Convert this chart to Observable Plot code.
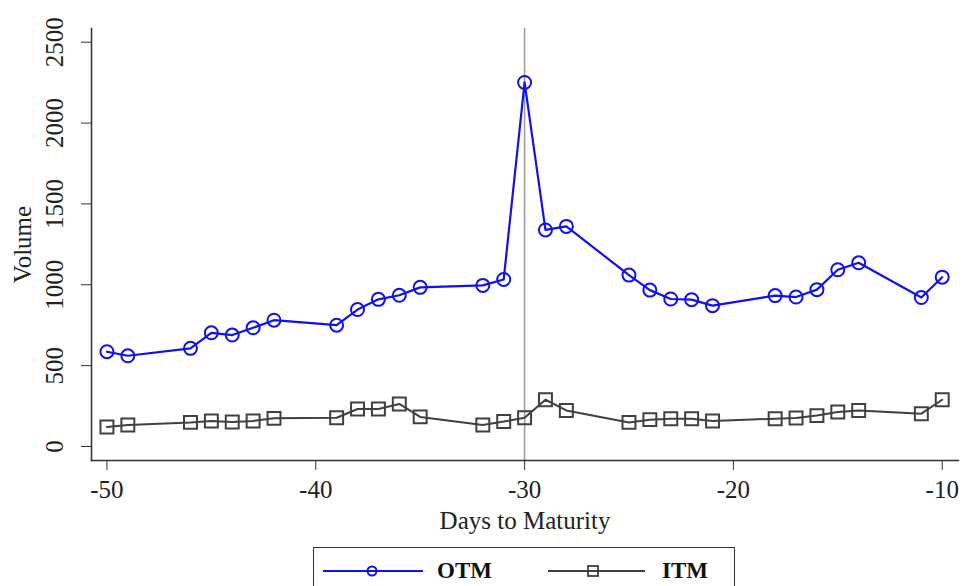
<!DOCTYPE html>
<html>
<head>
<meta charset="utf-8">
<script src="https://cdn.jsdelivr.net/npm/d3@7"></script>
<script src="https://cdn.jsdelivr.net/npm/@observablehq/plot@0.6"></script>
<style>
  html, body { margin: 0; padding: 0; background: #fff; overflow: hidden; }
  #chart { width: 963px; height: 586px; position: relative; font-family: "Liberation Serif", "DejaVu Serif", serif; }
  #legend { position: absolute; left: 313px; top: 547px; width: 422px; height: 46px; border: 1.5px solid #333; box-sizing: border-box; background: #fff; }
  #legend .item { position: absolute; top: 10px; display: flex; align-items: center; font-weight: bold; font-size: 23px; color: #111; }
</style>
</head>
<body>
<div id="chart"></div>
<script>
const days = [-50, -49, -46, -45, -44, -43, -42, -39, -38, -37, -36, -35, -32, -31, -30, -29, -28, -25, -24, -23, -22, -21, -18, -17, -16, -15, -14, -11, -10];
const otm = [586, 561, 607, 703, 689, 734, 781, 750, 847, 910, 935, 984, 996, 1033, 2251, 1339, 1361, 1060, 967, 912, 908, 871, 933, 924, 970, 1093, 1136, 921, 1047];
const itm = [121, 133, 149, 158, 152, 158, 174, 178, 232, 232, 263, 183, 133, 154, 178, 289, 223, 149, 166, 172, 172, 158, 172, 176, 191, 213, 223, 203, 289];
const xTicks = [-50, -40, -30, -20, -10];
const yTicks = [0, 500, 1000, 1500, 2000, 2500];
const markerDay = [-30];
const seriesNames = ["OTM", "ITM"];
const seriesColors = ["#1010f0", "#404040"];

const otmData = days.map((d, i) => ({day: d, v: otm[i]}));
const itmData = days.map((d, i) => ({day: d, v: itm[i]}));

const font = "Liberation Serif, DejaVu Serif, serif";

const plot = Plot.plot({
  width: 963,
  height: 540,
  marginLeft: 91,
  marginRight: 5,
  marginTop: 28,
  marginBottom: 80,
  style: {fontFamily: font, fontSize: "25px", color: "#222", background: "#fff"},
  x: {domain: [-50.74, -9.22]},
  y: {domain: [-86.6, 2584.7]},
  marks: [
    Plot.ruleX(markerDay, {stroke: "#9a9a9a", strokeWidth: 1.5}),
    Plot.frame({anchor: "left", stroke: "#333", strokeWidth: 1.5}),
    Plot.frame({anchor: "bottom", stroke: "#333", strokeWidth: 1.5}),
    Plot.axisX({ticks: xTicks, tickSize: 10, tickPadding: 10, tickFormat: d => d < 0 ? "-" + Math.abs(d) : String(d),
      label: "Days to Maturity", labelArrow: "none", labelAnchor: "center", labelOffset: 68, fontSize: 25, stroke: "#333", fill: "#222"}),
    Plot.axisY({ticks: yTicks, tickSize: 10, tickPadding: 19, tickRotate: -90, tickFormat: d => String(d),
      label: "Volume", labelArrow: "none", labelAnchor: "center", labelOffset: 78, fontSize: 25, stroke: "#333", fill: "#222"}),
    Plot.line(itmData, {x: "day", y: "v", stroke: seriesColors[1], strokeWidth: 2}),
    Plot.dot(itmData, {x: "day", y: "v", symbol: "square", r: 7.3, stroke: seriesColors[1], strokeWidth: 2, fill: "none"}),
    Plot.line(otmData, {x: "day", y: "v", stroke: seriesColors[0], strokeWidth: 2.2}),
    Plot.dot(otmData, {x: "day", y: "v", symbol: "circle", r: 6.5, stroke: seriesColors[0], strokeWidth: 2, fill: "none"})
  ]
});
const chart = document.getElementById("chart");
chart.appendChild(plot);

// legend
const legend = document.createElement("div");
legend.id = "legend";
const itemDefs = [
  {name: seriesNames[0], color: seriesColors[0], sym: "circle", left: 9},
  {name: seriesNames[1], color: seriesColors[1], sym: "square", left: 234}
];
for (const it of itemDefs) {
  const el = document.createElement("div");
  el.className = "item";
  el.style.left = it.left + "px";
  const symbol = it.sym === "circle"
    ? `<circle cx="49" cy="12" r="4.5" fill="none" stroke="${it.color}" stroke-width="2"/>`
    : `<rect x="40" y="7" width="10" height="10" fill="none" stroke="${it.color}" stroke-width="1.8"/>`;
  el.innerHTML = `<svg width="100" height="24" style="margin-right:14px"><line x1="0" x2="${it.sym === "circle" ? 100 : 97}" y1="12" y2="12" stroke="${it.color}" stroke-width="2"/>${symbol}</svg><span>${it.name}</span>`;
  legend.appendChild(el);
}
chart.appendChild(legend);
</script>
</body>
</html>
